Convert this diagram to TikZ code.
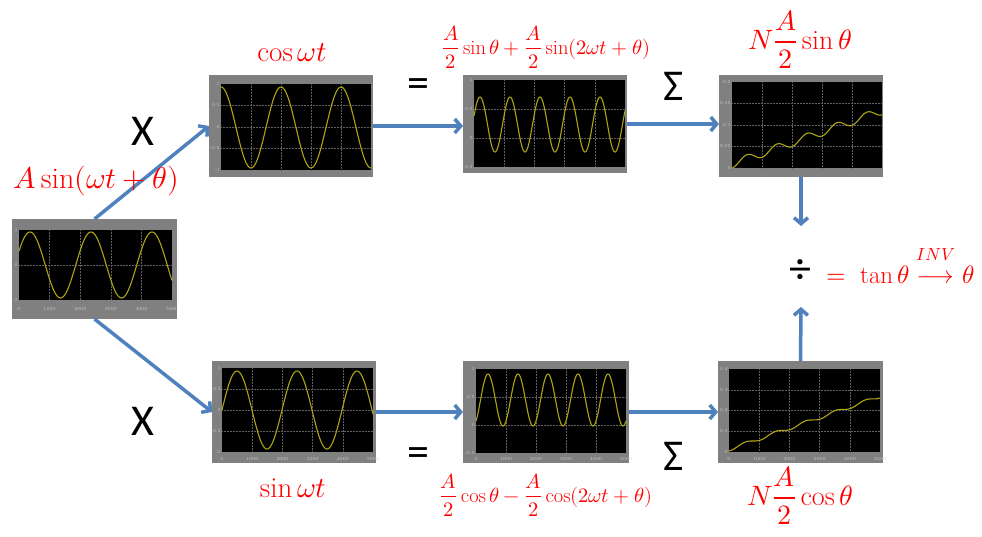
\documentclass[tikz,border=0pt]{standalone}
\usepackage{amsmath}
\usepackage{fontspec}
\usepackage{unicode-math}
\setmathfont{Latin Modern Math}
\newfontfamily\calib{Carlito}
\usetikzlibrary{arrows.meta}
\definecolor{arrowblue}{RGB}{79,129,189}
\definecolor{framegray}{RGB}{128,128,128}
\definecolor{tracey}{RGB}{175,165,20}
\definecolor{gridc}{RGB}{95,95,95}
\definecolor{tickc}{RGB}{205,205,205}
\newcommand{\pgrid}[5]{%
  \fill[black] (#1,#2) rectangle (#3,#4);
  \foreach \k in {1,2,3,4} \draw[gridline] ({#1+(#3-#1)*\k/5},#2) -- ({#1+(#3-#1)*\k/5},#4);
  \foreach \k in {1,...,#5} \draw[gridline] (#1,{#2+(#4-#2)*\k/(#5+1)}) -- (#3,{#2+(#4-#2)*\k/(#5+1)});
}
\newcommand{\yticks}[4]{%
  \foreach \t [count=\c from 0] in {#4} \node[tick,anchor=east] at (#1,{#2+\c*#3}) {\t};
}
\newcommand{\xticks}[3]{%
  \foreach \t [count=\c from 0] in {0,1000,2000,3000,4000,5000} \node[tick] at ({#1+\c*#2},#3) {\t};
}
\begin{document}
\begin{tikzpicture}[x=1pt,y=-1pt,
  panel/.style={fill=framegray, draw=none, inner sep=0, outer sep=0, anchor=north west},
  gridline/.style={gridc, densely dotted, line width=0.5pt},
  trace/.style={tracey, line width=1.1pt},
  arr/.style={arrowblue, line width=3.5pt, -{Straight Barb[length=6pt,width=14pt]}},
  redm/.style={red, inner sep=0},
  blk/.style={black, inner sep=0, font=\calib\fontsize{44}{44}\selectfont},
  tick/.style={tickc, inner sep=0, font=\fontsize{4.5}{5}\selectfont}]

\useasboundingbox (0,0) rectangle (982,536);

% panels
\node[panel, minimum width=165pt, minimum height=100pt] (inp)  at (12,219) {};
\node[panel, minimum width=164pt, minimum height=102pt] (cosp) at (209,75) {};
\node[panel, minimum width=164pt, minimum height=98pt]  (midu) at (463,75) {};
\node[panel, minimum width=164pt, minimum height=102pt] (sumu) at (719,75) {};
\node[panel, minimum width=164pt, minimum height=102pt] (sinp) at (212,361) {};
\node[panel, minimum width=166pt, minimum height=102pt] (midl) at (463,361) {};
\node[panel, minimum width=165pt, minimum height=102pt] (suml) at (718,361) {};

% input scope
\pgrid{19}{230}{172}{300}{1}
\yticks{18}{230}{35}{1,0,-1}
\xticks{19}{30.6}{309}
\draw[trace] plot[domain=19:172, samples=160] (\x,{265-33*sin((\x-14.75)/61*360)});

% cos scope
\pgrid{221}{84}{371}{170}{3}
\yticks{220}{84}{21.5}{1,0.5,0,-0.5,-1}
\draw[trace] plot[domain=221:371, samples=160] (\x,{127.5-40.5*cos((\x-221)/60*360)});

% upper product
\pgrid{474}{80}{625}{167}{2}
\yticks{473}{80}{29}{1,0.5,0,-0.5}
\draw[trace] plot[domain=474:625, samples=200] (\x,{124.5-27.5*cos((\x-480)*12)});

% upper sum
\pgrid{732}{82}{882}{168}{3}
\yticks{731}{82}{21.5}{0.2,0.15,0.1,0.05,0}
\draw[trace] plot[domain=732:882, samples=200] (\x,{168-0.355*(\x-732)-4*(1-cos((\x-732)*12))});

% sin scope
\pgrid{222}{368}{373}{452}{3}
\yticks{221}{368}{21}{1,0.5,0,-0.5,-1}
\xticks{222}{30.2}{459}
\draw[trace] plot[domain=222:373, samples=160] (\x,{410-39*sin((\x-222)/60*360)});

% lower product
\pgrid{476}{369}{626}{453}{2}
\yticks{475}{369}{28}{1,0.5,0,-0.5}
\xticks{476}{30}{459}
\draw[trace] plot[domain=476:626, samples=200] (\x,{400-26*cos((\x-488)*12)});

% lower sum
\pgrid{729}{369}{880}{452}{3}
\yticks{728}{369}{20.75}{0.4,0.3,0.2,0.1,0}
\xticks{729}{30.2}{459}
\draw[trace] plot[domain=729:880, samples=200] (\x,{441-0.351*((\x-753)-4.775*sin((\x-753)*12))});

% arrows
\coordinate (dtop) at (801,226);
\coordinate (dbot) at (801,307);
\draw[arr] (inp.north) -- (cosp.west);
\draw[arr] (inp.south) -- (sinp.west);
\draw[arr] (cosp.east) -- (cosp.east -| midu.west);
\draw[arr] (midu.east) -- (midu.east -| sumu.west);
\draw[arr] (sinp.east) -- (sinp.east -| midl.west);
\draw[arr] (midl.east) -- (suml.west);
\draw[arr] (sumu.south) -- (dtop);
\draw[arr] (suml.north) -- (dbot);

% black symbols
\node[blk] (xu)  at (143,131) {X};
\node[blk] (xl)  at (143,421) {X};
\node[blk] (equ) at (418,88) {=};
\node[blk] (eql) at (418,457) {=};
\node[blk] (sgu) at (674,86) {Σ};
\node[blk] (sgl) at (674,456) {Σ};
\node[blk] (dv)  at (800,272) {÷};

% red formulas
\node[redm, anchor=base, font=\fontsize{30}{32}\selectfont] (lin) at (96,188) {$A\sin(\omega t+\theta)$};
\node[redm, anchor=base, font=\fontsize{29}{31}\selectfont] (lcos) at (292,61) {$\cos\omega t$};
\node[redm, anchor=base, font=\fontsize{29}{31}\selectfont] (lsin) at (293,497) {$\sin\omega t$};
\node[redm, anchor=base, font=\fontsize{20.5}{22}\selectfont] (lup) at (546,54) {$\dfrac{A}{2}\sin\theta+\dfrac{A}{2}\sin(2\omega t+\theta)$};
\node[redm, anchor=base, font=\fontsize{20.5}{22}\selectfont] (llo) at (546,502) {$\dfrac{A}{2}\cos\theta-\dfrac{A}{2}\cos(2\omega t+\theta)$};
\node[redm, anchor=base, font=\fontsize{28}{30}\selectfont] (lnu) at (800,49) {$N\dfrac{A}{2}\sin\theta$};
\node[redm, anchor=base, font=\fontsize{28}{30}\selectfont] (lnl) at (800,505) {$N\dfrac{A}{2}\cos\theta$};
\node[redm, anchor=base west, font=\fontsize{25}{27}\selectfont] (ltan) at (826,283) {$=\ \tan\theta\overset{\raisebox{5pt}{$\scriptstyle INV$}}{\longrightarrow}\theta$};
\end{tikzpicture}
\end{document}
